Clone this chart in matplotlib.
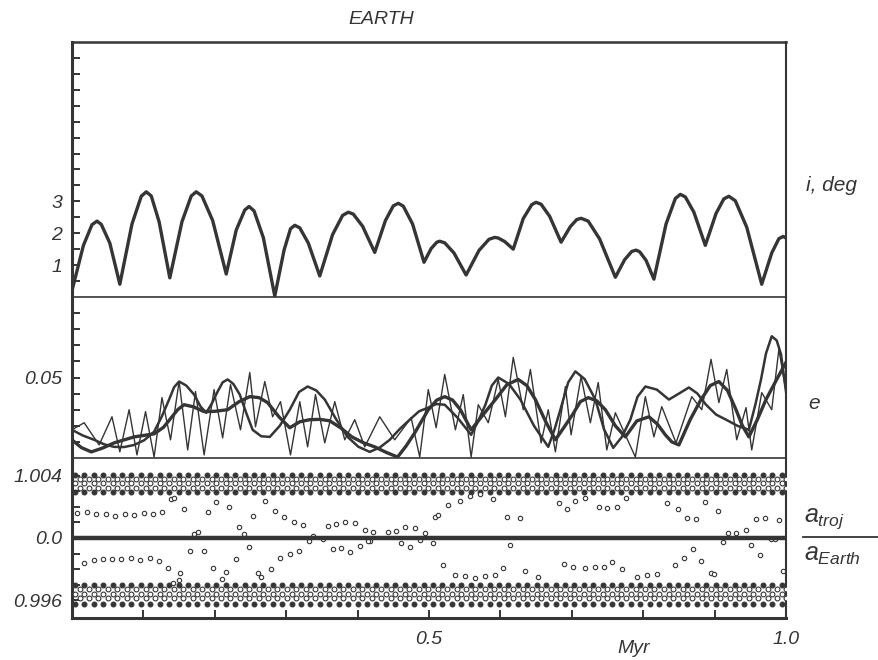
import numpy as np
import matplotlib.pyplot as plt
from matplotlib.lines import Line2D

# fonts: helvetica-like italic everywhere
plt.rcParams['font.family'] = 'Liberation Sans'
plt.rcParams['mathtext.fontset'] = 'custom'
plt.rcParams['mathtext.it'] = 'Liberation Sans:italic'
plt.rcParams['mathtext.rm'] = 'Liberation Sans'

ink = '#353535'

# ---- inclination (deg) vs time (Myr)
inc_t = [0.0, 0.016, 0.028, 0.035, 0.041, 0.053, 0.067, 0.084, 0.097, 0.104, 0.111, 0.122,
         0.137, 0.154, 0.167, 0.174, 0.182, 0.197, 0.216, 0.230, 0.242, 0.248, 0.255, 0.268,
         0.284, 0.297, 0.306, 0.312, 0.319, 0.331, 0.347, 0.365, 0.379, 0.387, 0.394, 0.407,
         0.424, 0.439, 0.450, 0.457, 0.464, 0.477, 0.493, 0.503, 0.511, 0.515, 0.522, 0.535,
         0.552, 0.570, 0.584, 0.592, 0.597, 0.606, 0.618, 0.632, 0.644, 0.650, 0.657, 0.669,
         0.685, 0.698, 0.707, 0.713, 0.723, 0.739, 0.761, 0.774, 0.784, 0.790, 0.795, 0.804,
         0.815, 0.832, 0.845, 0.852, 0.859, 0.871, 0.887, 0.902, 0.913, 0.920, 0.929, 0.945,
         0.966, 0.980, 0.990, 0.996, 1.0]
inc_deg = [0.2, 1.62, 2.27, 2.38, 2.28, 1.69, 0.4, 2.29, 3.16, 3.3, 3.17, 2.36,
           0.6, 2.36, 3.17, 3.3, 3.17, 2.40, 0.72, 2.10, 2.73, 2.84, 2.70, 1.86,
           0.03, 1.47, 2.14, 2.25, 2.17, 1.69, 0.66, 1.96, 2.56, 2.66, 2.60, 2.22,
           1.4, 2.40, 2.86, 2.94, 2.85, 2.29, 1.09, 1.52, 1.72, 1.75, 1.70, 1.38,
           0.69, 1.46, 1.81, 1.87, 1.85, 1.74, 1.5, 2.46, 2.90, 2.97, 2.91, 2.53,
           1.72, 2.21, 2.43, 2.47, 2.38, 1.82, 0.62, 1.17, 1.43, 1.47, 1.42, 1.15,
           0.56, 2.29, 3.09, 3.22, 3.14, 2.66, 1.62, 2.62, 3.08, 3.16, 3.02, 2.19,
           0.4, 1.38, 1.83, 1.9, 1.85]

# ---- eccentricity curves
ecc_fast_t = [0.0, 0.017, 0.038, 0.056, 0.067, 0.080, 0.091, 0.103, 0.115, 0.126, 0.138, 0.150,
              0.162, 0.173, 0.185, 0.199, 0.211, 0.222, 0.236, 0.249, 0.257, 0.270, 0.281, 0.292,
              0.306, 0.319, 0.330, 0.341, 0.354, 0.368, 0.382, 0.396, 0.410, 0.431, 0.452, 0.475,
              0.487, 0.499, 0.510, 0.522, 0.537, 0.548, 0.559, 0.569, 0.583, 0.597, 0.607, 0.618,
              0.632, 0.642, 0.657, 0.667, 0.677, 0.691, 0.699, 0.713, 0.726, 0.737, 0.749, 0.761,
              0.789, 0.803, 0.815, 0.826, 0.846, 0.868, 0.882, 0.895, 0.906, 0.917, 0.931, 0.944,
              0.952, 0.966, 0.980, 0.990, 1.0]
ecc_fast = [0.0175, 0.0219, 0.0081, 0.0256, 0.0038, 0.030, 0.0019, 0.0288, 0.0006, 0.0375, 0.0113, 0.0475,
            0.005, 0.0413, 0.0019, 0.0425, 0.0125, 0.0456, 0.0175, 0.0531, 0.0194, 0.0475, 0.0256, 0.035,
            0.0019, 0.035, 0.0069, 0.0394, 0.0094, 0.035, 0.0113, 0.0238, 0.0069, 0.0256, 0.0113, 0.025,
            0.0006, 0.0425, 0.0188, 0.0519, 0.0175, 0.0394, 0.0006, 0.0331, 0.0219, 0.0488, 0.0256, 0.0625,
            0.030, 0.055, 0.0094, 0.030, 0.0038, 0.0444, 0.0144, 0.0506, 0.0219, 0.0469, 0.005, 0.0281,
            0.0006, 0.0381, 0.0131, 0.0319, 0.0094, 0.0381, 0.030, 0.0613, 0.0344, 0.055, 0.0113, 0.0313,
            0.005, 0.0406, 0.030, 0.0675, 0.0413]

ecc_slow_t = [0.0, 0.013, 0.027, 0.043, 0.059, 0.087, 0.115, 0.128, 0.139, 0.148, 0.157, 0.170,
              0.185, 0.200, 0.218, 0.234, 0.249, 0.262, 0.274, 0.290, 0.305, 0.319, 0.333, 0.347,
              0.361, 0.377, 0.392, 0.408, 0.424, 0.440, 0.456, 0.468, 0.480, 0.499, 0.511, 0.522,
              0.533, 0.544, 0.559, 0.576, 0.593, 0.609, 0.625, 0.637, 0.649, 0.663, 0.677, 0.689,
              0.701, 0.712, 0.723, 0.735, 0.747, 0.761, 0.775, 0.791, 0.808, 0.820, 0.831, 0.840,
              0.850, 0.866, 0.881, 0.894, 0.906, 0.918, 0.930, 0.939, 0.948, 0.960, 0.972, 0.986,
              1.0]
ecc_slow = [0.0113, 0.0065, 0.0038, 0.0062, 0.0094, 0.0131, 0.015, 0.019, 0.025, 0.030, 0.0331, 0.0318,
            0.0288, 0.0290, 0.030, 0.0350, 0.0381, 0.0375, 0.0344, 0.0255, 0.0188, 0.0225, 0.0238, 0.0240,
            0.0231, 0.0185, 0.0131, 0.0095, 0.0069, 0.0035, 0.0006, 0.0075, 0.0156, 0.030, 0.0360, 0.0381,
            0.0360, 0.030, 0.0175, 0.0270, 0.0363, 0.0455, 0.0488, 0.0450, 0.0363, 0.0230, 0.0113, 0.0190,
            0.0269, 0.0350, 0.0375, 0.0355, 0.030, 0.0200, 0.0131, 0.0230, 0.0256, 0.0210, 0.0144, 0.0100,
            0.0081, 0.0240, 0.0363, 0.0450, 0.0475, 0.0420, 0.030, 0.0200, 0.0131, 0.0240, 0.0363, 0.0480,
            0.0594]

ecc_mid_t = [0.0, 0.015, 0.031, 0.045, 0.059, 0.073, 0.087, 0.101, 0.115, 0.126, 0.136, 0.143,
             0.150, 0.160, 0.171, 0.180, 0.188, 0.196, 0.204, 0.211, 0.218, 0.226, 0.235, 0.244,
             0.253, 0.265, 0.277, 0.291, 0.305, 0.318, 0.330, 0.342, 0.354, 0.370, 0.386, 0.401,
             0.417, 0.431, 0.445, 0.459, 0.473, 0.486, 0.499, 0.510, 0.522, 0.540, 0.559, 0.569,
             0.579, 0.588, 0.597, 0.612, 0.628, 0.647, 0.667, 0.676, 0.684, 0.695, 0.705, 0.718,
             0.733, 0.745, 0.758, 0.770, 0.782, 0.792, 0.803, 0.819, 0.836, 0.850, 0.864, 0.876,
             0.888, 0.902, 0.916, 0.932, 0.948, 0.957, 0.965, 0.972, 0.980, 0.987, 0.993, 1.0]
ecc_mid = [0.0175, 0.0140, 0.0113, 0.0085, 0.0069, 0.0068, 0.0081, 0.0110, 0.0163, 0.0260, 0.0363, 0.0440,
           0.0475, 0.0450, 0.0394, 0.0320, 0.0281, 0.0340, 0.0413, 0.0470, 0.0488, 0.0460, 0.0394, 0.0280,
           0.0175, 0.0135, 0.0131, 0.0200, 0.030, 0.0410, 0.0444, 0.0420, 0.0363, 0.0240, 0.0131, 0.0070,
           0.0038, 0.0065, 0.0113, 0.0180, 0.0238, 0.0290, 0.0313, 0.0335, 0.0331, 0.0250, 0.0144, 0.0230,
           0.0331, 0.0450, 0.05, 0.0460, 0.0363, 0.0200, 0.0069, 0.0180, 0.030, 0.0470, 0.0538, 0.0490,
           0.0363, 0.0180, 0.0063, 0.0130, 0.0238, 0.0380, 0.0444, 0.0425, 0.0363, 0.0400, 0.0438, 0.0400,
           0.0331, 0.0270, 0.0238, 0.0200, 0.0175, 0.0330, 0.0488, 0.0650, 0.0756, 0.0730, 0.0644, 0.0413]

# ---- a_troj / a_Earth: scattered points between the bands
troj_hi_t = [0.007, 0.021, 0.034, 0.048, 0.060, 0.074, 0.087, 0.101, 0.114, 0.126,
             0.139, 0.143, 0.157, 0.171, 0.177, 0.191, 0.202, 0.220, 0.234, 0.241,
             0.254, 0.271, 0.285, 0.297, 0.311, 0.324, 0.337, 0.351, 0.332, 0.358,
             0.370, 0.383, 0.396, 0.410, 0.422, 0.417, 0.442, 0.454, 0.467, 0.480,
             0.461, 0.474, 0.488, 0.494, 0.506, 0.509, 0.512, 0.526, 0.544, 0.558,
             0.572, 0.589, 0.609, 0.628, 0.682, 0.693, 0.705, 0.718, 0.738, 0.750,
             0.763, 0.776, 0.834, 0.849, 0.861, 0.874, 0.886, 0.905, 0.919, 0.930,
             0.944, 0.912, 0.958, 0.971, 0.979, 0.985, 0.990]
troj_hi = [1.00161, 1.00168, 1.00155, 1.00155, 1.00142, 1.00155, 1.00148, 1.00161, 1.00155, 1.00168,
           1.00252, 1.00258, 1.00187, 1.00026, 1.00039, 1.00168, 1.00232, 1.00200, 1.00071, 1.00026,
           1.00142, 1.00239, 1.00174, 1.00135, 1.00103, 1.00084, 1.00013, 0.99994, 0.99981, 1.00077,
           1.00090, 1.00103, 1.00097, 1.00052, 1.00039, 0.99981, 1.00039, 1.00045, 1.00071, 1.00065,
           0.99968, 0.99942, 0.99987, 1.00032, 0.99968, 1.00135, 1.00148, 1.00213, 1.00239, 1.00271,
           1.00284, 1.00252, 1.00135, 1.00129, 1.00226, 1.00187, 1.00239, 1.00258, 1.00200, 1.00194,
           1.00200, 1.00258, 1.00226, 1.00187, 1.00129, 1.00123, 1.00232, 1.00174, 1.00032, 1.00032,
           1.00052, 0.99974, 1.00123, 1.00129, 0.99994, 0.99994, 1.00116]
troj_lo_t = [0.017, 0.031, 0.043, 0.056, 0.069, 0.083, 0.095, 0.109, 0.122, 0.135,
             0.151, 0.142, 0.150, 0.165, 0.185, 0.198, 0.210, 0.216, 0.229, 0.248,
             0.261, 0.265, 0.279, 0.292, 0.306, 0.318, 0.365, 0.377, 0.390, 0.404,
             0.415, 0.520, 0.536, 0.550, 0.564, 0.578, 0.592, 0.603, 0.614, 0.635,
             0.652, 0.689, 0.701, 0.718, 0.732, 0.745, 0.757, 0.770, 0.792, 0.806,
             0.820, 0.844, 0.857, 0.870, 0.881, 0.895, 0.899, 0.951, 0.964, 0.996]
troj_lo = [0.99839, 0.99858, 0.99865, 0.99865, 0.99865, 0.99871, 0.99858, 0.99871, 0.99852, 0.99806,
           0.99774, 0.99710, 0.99729, 0.99916, 0.99916, 0.99806, 0.99735, 0.99781, 0.99865, 0.99942,
           0.99774, 0.99748, 0.99800, 0.99871, 0.99897, 0.99916, 0.99929, 0.99935, 0.99910, 0.99948,
           0.99981, 0.99826, 0.99761, 0.99755, 0.99742, 0.99755, 0.99761, 0.99806, 0.99955, 0.99787,
           0.99748, 0.99832, 0.99813, 0.99806, 0.99813, 0.99813, 0.99845, 0.99800, 0.99748, 0.99761,
           0.99768, 0.99826, 0.99871, 0.99929, 0.99852, 0.99774, 0.99768, 0.99955, 0.99890, 0.99787]

# dense bands of points (sampled every band_step Myr) and their row levels
band_step = 0.0132
band_upper = [1.00406, 1.00380, 1.00353, 1.00325, 1.00298]
band_upper_dark = [True, False, False, False, True]
band_lower = [0.99700, 0.99672, 0.99642, 0.99610, 0.99576]
band_lower_dark = [True, False, False, False, True]
ratio_line_t = [0.0, 1.0]
ratio_line = [1.0, 1.0]

# ---- layout (pixel frame of the scan)
fig = plt.figure(figsize=(8.79, 6.60), dpi=100)
L, W = 72 / 879, 714 / 879
ax1 = fig.add_axes([L, 1 - 297 / 660, W, 255 / 660])
ax2 = fig.add_axes([L, 1 - 458 / 660, W, 161 / 660], sharex=ax1)
ax3 = fig.add_axes([L, 1 - 618 / 660, W, 160 / 660], sharex=ax1)

for ax in (ax1, ax2, ax3):
    ax.set_facecolor('none')
    ax.spines['left'].set_linewidth(2.2)
    ax.spines['right'].set_linewidth(1.5)
    ax.spines['top'].set_linewidth(1.2)
    ax.spines['bottom'].set_linewidth(1.2)
    for s in ax.spines.values():
        s.set_color(ink)
    ax.tick_params(axis='y', direction='in', length=6, width=1.4, pad=7,
                   labelsize=14, colors=ink, right=False)
    ax.tick_params(axis='x', bottom=False, labelbottom=False)
ax1.spines['top'].set_linewidth(1.8)
ax2.spines['top'].set_visible(False)
ax3.spines['top'].set_visible(False)
ax3.spines['bottom'].set_linewidth(2.2)

# top panel: inclination
ax1.plot(inc_t, inc_deg, color=ink, lw=2.4, solid_joinstyle='round')
ax1.set_ylim(0, 8)
yt1 = [k * 0.5 for k in range(1, 16)]
ax1.set_yticks(yt1)
ax1.set_yticklabels(['1' if v == 1 else '2' if v == 2 else '3' if v == 3 else '' for v in yt1],
                    fontstyle='italic')

# middle panel: eccentricity
ax2.plot(ecc_fast_t, ecc_fast, color=ink, lw=1.0, solid_joinstyle='round')
ax2.plot(ecc_mid_t, ecc_mid, color=ink, lw=1.8, solid_joinstyle='round')
ax2.plot(ecc_slow_t, ecc_slow, color=ink, lw=2.4, solid_joinstyle='round')
ax2.set_ylim(0, 0.1)
yt2 = [k * 0.01 for k in range(1, 10)]
ax2.set_yticks(yt2)
ax2.set_yticklabels(['0.05' if k == 5 else '' for k in range(1, 10)], fontstyle='italic')

# bottom panel: semimajor axis ratio
band_t = np.arange(0.004, 0.998, band_step)
for levels, dark in ((band_upper, band_upper_dark), (band_lower, band_lower_dark)):
    for k, lev in enumerate(levels):
        tt = band_t + (band_step / 2 if k % 2 else 0)
        ax3.scatter(tt, [lev] * len(tt), s=12, marker='o',
                    facecolor=ink if dark[k] else 'white', edgecolor=ink, linewidth=0.8, zorder=3)
ax3.scatter(troj_hi_t, troj_hi, s=10, marker='o', facecolor='white', edgecolor=ink, linewidth=0.8, zorder=3)
ax3.scatter(troj_lo_t, troj_lo, s=10, marker='o', facecolor='white', edgecolor=ink, linewidth=0.8, zorder=3)
ax3.plot(ratio_line_t, ratio_line, color=ink, lw=3.2, zorder=4)
ax3.set_ylim(0.99484, 1.00516)
yt3 = [0.996, 0.997, 0.998, 0.999, 1.0, 1.001, 1.002, 1.003, 1.004]
ax3.set_yticks(yt3)
ax3.set_yticklabels(['0.996', '', '', '', '0.0', '', '', '', '1.004'], fontstyle='italic')

xt = [k / 10 for k in range(1, 11)]
ax3.set_xlim(0, 1.0)
ax3.set_xticks(xt)
ax3.set_xticklabels(['0.5' if k == 5 else '1.0' if k == 10 else '' for k in range(1, 11)],
                    fontstyle='italic')
ax3.tick_params(axis='x', bottom=True, labelbottom=True, direction='in', length=6, width=1.4,
                pad=9, labelsize=14, colors=ink)
ax3.set_xlabel('Myr', fontstyle='italic', fontsize=14, color=ink)
ax3.xaxis.set_label_coords(0.787, -0.14)

# titles and right-hand labels
fig.text(381 / 879, 1 - 20 / 660, 'EARTH', ha='center', va='center', fontstyle='italic',
         fontsize=14, color=ink)
fig.text(806 / 879, 1 - 186 / 660, 'i, deg', ha='left', va='center', fontstyle='italic',
         fontsize=15, color=ink)
fig.text(808 / 879, 1 - 404 / 660, 'e', ha='left', va='center', fontstyle='italic',
         fontsize=15, color=ink)
fig.text(804 / 879, 1 - 519 / 660, r'$a_{troj}$', ha='left', va='center', fontsize=18, color=ink)
fig.add_artist(Line2D([803 / 879, 878 / 879], [1 - 537 / 660, 1 - 537 / 660],
                      color=ink, lw=1.3, transform=fig.transFigure))
fig.text(804 / 879, 1 - 555 / 660, r'$a_{Earth}$', ha='left', va='center', fontsize=18, color=ink)

fig.savefig('out.png', dpi=100)
